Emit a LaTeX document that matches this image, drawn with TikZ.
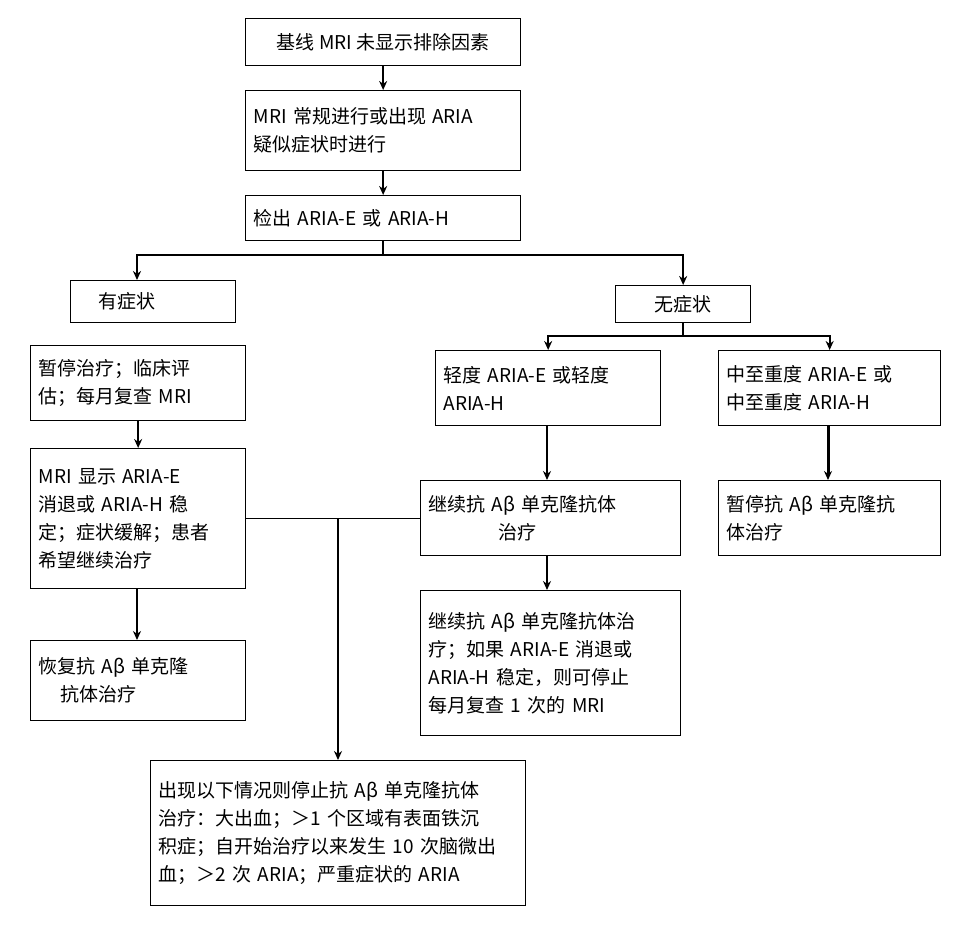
\documentclass[tikz,border=0pt]{standalone}
\usepackage{fontspec}
\setmainfont{Noto Sans CJK SC}
\usetikzlibrary{arrows.meta}
\begin{document}
\begin{tikzpicture}[x=1pt,y=-1pt,>={Stealth[length=9pt,width=8pt]},
  box/.style={draw,line width=1.3pt,anchor=north west,align=left,inner sep=8pt,
    font=\fontsize{19}{28}\selectfont},
  link/.style={line width=2pt}]
    \useasboundingbox (0,0) rectangle (960,941);

    % top chain
    \node[box,minimum width=275pt,minimum height=47pt,align=center] (base) at (245,18) {基线 MRI 未显示排除因素};
    \node[box,minimum width=275pt,minimum height=80pt,text width=259pt] (mri) at (245,90) {MRI 常规进行或出现 ARIA\\疑似症状时进行};
    \node[box,minimum width=275pt,minimum height=45pt,text width=259pt] (det) at (245,195) {检出 ARIA-E 或 ARIA-H};

    % two branches
    \node[box,minimum width=165pt,minimum height=42pt,text width=149pt] (sym) at (70,280) {\hspace*{20pt}有症状};
    \node[box,minimum width=135pt,minimum height=37pt,align=center] (nosym) at (615,285) {无症状};

    % left column
    \node[box,minimum width=215pt,minimum height=75pt,text width=199pt] (pause) at (30,345) {暂停治疗；临床评\\估；每月复查 MRI};
    \node[box,minimum width=215pt,minimum height=140pt,text width=199pt] (show) at (30,448) {MRI 显示 ARIA-E\\消退或 ARIA-H 稳\\定；症状缓解；患者\\希望继续治疗};
    \node[box,minimum width=215pt,minimum height=80pt,text width=199pt] (resume) at (30,640) {恢复抗 Aβ 单克隆\\\hspace*{22pt}抗体治疗};

    % right columns
    \node[box,minimum width=225pt,minimum height=75pt,text width=209pt] (mild) at (435,350) {轻度 ARIA-E 或轻度\\ARIA-H};
    \node[box,minimum width=222pt,minimum height=75pt,text width=206pt] (severe) at (718,350) {中至重度 ARIA-E 或\\中至重度 ARIA-H};
    \node[box,minimum width=260pt,minimum height=75pt,text width=244pt] (cont) at (420,480) {继续抗 Aβ 单克隆抗体\\\hspace*{70pt}治疗};
    \node[box,minimum width=222pt,minimum height=75pt,text width=206pt] (stop) at (718,480) {暂停抗 Aβ 单克隆抗\\体治疗};
    \node[box,minimum width=260pt,minimum height=145pt,text width=244pt] (cont2) at (420,590) {继续抗 Aβ 单克隆抗体治\\疗；如果 ARIA-E 消退或\\ARIA-H 稳定，则可停止\\每月复查 1 次的 MRI};

    % bottom box
    \node[box,minimum width=375pt,minimum height=145pt,text width=359pt] (quit) at (150,760) {出现以下情况则停止抗 Aβ 单克隆抗体\\治疗：大出血；＞1 个区域有表面铁沉\\积症；自开始治疗以来发生 10 次脑微出\\血；＞2 次 ARIA；严重症状的 ARIA};

    % connectors
    \draw[link,->] (base) -- (mri);
    \draw[link,->] (mri) -- (det);
    \coordinate (split) at (det.south |- 0,255);
    \draw[link] (det.south) -- (split);
    \draw[link,->] (split) -| (sym.north -| 137,0);
    \draw[link,->] (split) -| (nosym.north);
    \coordinate (split2) at (nosym.south |- 0,336);
    \draw[link] (nosym.south) -- (split2);
    \draw[link,->] (split2) -| (mild.north);
    \draw[link,->] (split2) -| (severe.north);
    \draw[link,->] (pause) -- (show.north -| pause.south);
    \draw[link,->] (show.south -| 137,0) -- (resume.north -| 137,0);
    \draw[link,->] (mild.south -| 547,0) -- (cont.north -| 547,0);
    \draw[link,->] (cont.south -| 547,0) -- (cont2.north -| 547,0);
    \draw[line width=3pt,->] (severe.south -| 828,0) -- (stop.north -| 828,0);
    \coordinate (joint) at (338,518);
    \draw[line width=1pt] (show.east |- joint) -- (cont.west |- joint);
    \draw[link,->] (joint) -- (quit.north -| joint);
\end{tikzpicture}
\end{document}
